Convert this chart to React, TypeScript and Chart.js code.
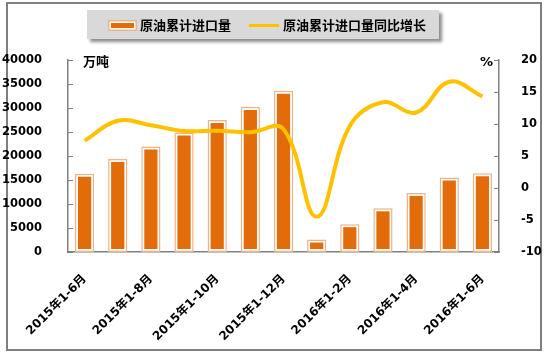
import React, { useEffect, useRef } from 'react';
import { Chart, registerables } from 'chart.js';

Chart.register(...registerables);

const categories = [
  '2015年1-6月', '2015年1-7月', '2015年1-8月', '2015年1-9月', '2015年1-10月',
  '2015年1-11月', '2015年1-12月', '2016年1月', '2016年1-2月', '2016年1-3月',
  '2016年1-4月', '2016年1-5月', '2016年1-6月',
];
const importVolume = [16300, 19400, 22000, 24900, 27500, 30200, 33600, 2600, 5800, 9100, 12300, 15500, 16400];
const yoyGrowth = [7.4, 10.5, 9.8, 8.9, 8.95, 8.7, 9.2, -4.5, 9.7, 13.4, 11.8, 16.6, 14.3];
const seriesNames = ['原油累计进口量', '原油累计进口量同比增长'];
const leftUnit = '万吨';
const rightUnit = '%';
const leftTicks = { min: 0, max: 40000, step: 5000 };
const rightTicks = { min: -10, max: 20, step: 5 };

const DARK = '#E26B0A';
const LIGHT = '#F4B183';
const GOLD = '#FFC000';
const AXIS = '#808080';
const FONT = '"DejaVu Sans", "Noto Sans CJK SC", sans-serif';
const CJK = '"Noto Sans CJK SC", "DejaVu Sans", sans-serif';

const decorPlugin = {
  id: 'decor',
  beforeDraw(chart: any) {
    const ctx = chart.ctx;
    ctx.save();
    ctx.fillStyle = '#ffffff';
    ctx.fillRect(0, 0, chart.width, chart.height);
    ctx.strokeStyle = '#7f7f7f';
    ctx.lineWidth = 2;
    ctx.strokeRect(7, 3, 534, 347);
    ctx.shadowColor = 'rgba(0,0,0,0.45)';
    ctx.shadowOffsetX = 3;
    ctx.shadowOffsetY = 3;
    ctx.shadowBlur = 3;
    ctx.fillStyle = '#D9D9D9';
    ctx.fillRect(87, 10, 352, 29);
    ctx.shadowColor = 'transparent';
    ctx.shadowOffsetX = 0;
    ctx.shadowOffsetY = 0;
    ctx.shadowBlur = 0;
    ctx.fillStyle = LIGHT;
    ctx.fillRect(108, 20, 29, 11);
    ctx.fillStyle = '#ffffff';
    ctx.fillRect(109.5, 21.5, 26, 8);
    ctx.fillStyle = DARK;
    ctx.fillRect(111, 23, 23, 5);
    ctx.font = 'bold 13px ' + CJK;
    ctx.fillStyle = '#000';
    ctx.textBaseline = 'middle';
    ctx.textAlign = 'left';
    ctx.fillText(seriesNames[0], 140, 25.5);
    ctx.strokeStyle = GOLD;
    ctx.lineWidth = 3;
    ctx.beginPath();
    ctx.moveTo(249, 25.5);
    ctx.lineTo(279, 25.5);
    ctx.stroke();
    ctx.fillText(seriesNames[1], 283, 25.5);
    ctx.restore();
  },
  afterDraw(chart: any) {
    const ctx = chart.ctx;
    const { left, right } = chart.chartArea;
    ctx.save();
    ctx.strokeStyle = AXIS;
    ctx.lineWidth = 1;
    const ys = chart.scales.y;
    ys.ticks.forEach((t: any) => {
      const p = Math.round(ys.getPixelForValue(t.value)) + 0.5;
      ctx.beginPath();
      ctx.moveTo(left, p);
      ctx.lineTo(left + 5, p);
      ctx.stroke();
    });
    const yr = chart.scales.y1;
    yr.ticks.forEach((t: any) => {
      const p = Math.round(yr.getPixelForValue(t.value)) + 0.5;
      ctx.beginPath();
      ctx.moveTo(right - 5, p);
      ctx.lineTo(right, p);
      ctx.stroke();
    });
    ctx.font = 'bold 13px ' + CJK;
    ctx.fillStyle = '#000';
    ctx.textBaseline = 'middle';
    ctx.textAlign = 'left';
    ctx.fillText(leftUnit, left + 15, chart.chartArea.top + 1);
    ctx.textAlign = 'right';
    ctx.font = 'bold 13px ' + FONT;
    ctx.fillText(rightUnit, right - 6, chart.chartArea.top + 3);
    ctx.restore();
  },
};

export default function App() {
  const ref = useRef<HTMLCanvasElement | null>(null);
  useEffect(() => {
    if (!ref.current) return;
    const tickFont = { family: FONT, size: 11.5, weight: 'bold' as const };
    const xFont = { family: FONT, size: 12, weight: 'bold' as const };
    const chart = new Chart(ref.current, {
      type: 'bar',
      data: {
        labels: categories,
        datasets: [
          {
            type: 'line',
            label: seriesNames[1],
            data: yoyGrowth,
            borderColor: GOLD,
            borderWidth: 4,
            pointRadius: 0,
            tension: 0.4,
            yAxisID: 'y1',
            order: 0,
          } as any,
          {
            type: 'bar',
            label: seriesNames[0] + '-inner',
            data: importVolume,
            backgroundColor: DARK,
            borderWidth: 0,
            inflateAmount: -3,
            barPercentage: 0.58,
            categoryPercentage: 1,
            grouped: false,
            yAxisID: 'y',
            order: 1,
          } as any,
          {
            type: 'bar',
            label: seriesNames[0],
            data: importVolume,
            backgroundColor: '#ffffff',
            borderColor: LIGHT,
            borderWidth: 1.5,
            borderSkipped: false,
            barPercentage: 0.58,
            categoryPercentage: 1,
            grouped: false,
            yAxisID: 'y',
            order: 2,
          } as any,
        ],
      },
      options: {
        responsive: false,
        animation: false,
        devicePixelRatio: 1,
        layout: { padding: { top: 60, left: 0, right: 0, bottom: 0 } },
        plugins: { legend: { display: false }, tooltip: { enabled: false } },
        scales: {
          x: {
            grid: { display: false },
            border: { display: true, color: AXIS, width: 1.5 },
            ticks: {
              color: '#000',
              font: xFont,
              minRotation: 45,
              maxRotation: 45,
              autoSkip: false,
              padding: 12,
              callback: (_v: any, i: number) => (i % 2 === 0 ? categories[i] : ''),
            },
            afterFit: (s: any) => { s.height = 108; },
          },
          y: {
            position: 'left',
            min: leftTicks.min,
            max: leftTicks.max,
            grid: { display: false },
            border: { display: true, color: AXIS, width: 1.5 },
            ticks: {
              stepSize: leftTicks.step, color: '#000', font: tickFont, padding: 18,
              callback: (v: any) => String(v),
            },
            afterFit: (s: any) => { s.width = 68; },
          },
          y1: {
            position: 'right',
            min: rightTicks.min,
            max: rightTicks.max,
            grid: { display: false },
            border: { display: true, color: AXIS, width: 1.5 },
            ticks: {
              stepSize: rightTicks.step, color: '#000', font: tickFont, padding: 14,
              callback: (v: any) => String(v),
            },
            afterFit: (s: any) => { s.width = 49; },
          },
        },
      },
      plugins: [decorPlugin],
    });
    return () => chart.destroy();
  }, []);
  return (
    <div style={{ position: 'fixed', left: 0, top: 0, width: 548, height: 360, background: '#fff' }}>
      <canvas ref={ref} width={548} height={360} style={{ display: 'block' }} />
    </div>
  );
}
